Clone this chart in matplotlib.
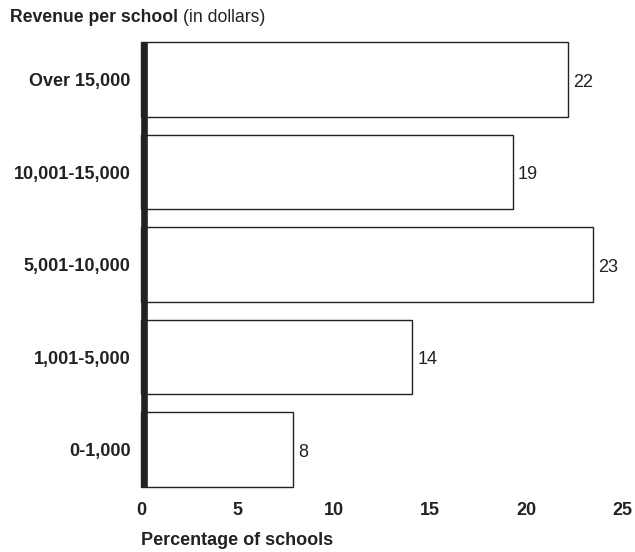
import numpy as np
import matplotlib.pyplot as plt

plt.rcParams['font.family'] = ['Liberation Sans', 'DejaVu Sans']

categories = ['0-1,000', '1,001-5,000', '5,001-10,000', '10,001-15,000', 'Over 15,000']
values = [7.9, 14.1, 23.5, 19.3, 22.2]
value_labels = ['8', '14', '23', '19', '22']
xticks = [0, 5, 10, 15, 20, 25]

ink = '#222222'

fig = plt.figure(figsize=(6.35, 5.52), dpi=100)
ax = fig.add_axes([0.222, 0.1178, 0.758, 0.806])

for s in ['top', 'right', 'bottom', 'left']:
    ax.spines[s].set_visible(False)

y = np.arange(len(categories))
ax.barh(y, values, height=0.81, color='white', edgecolor=ink, linewidth=1.0,
        clip_on=False, zorder=1)

# thick black rule along the left edge
ax.axvline(0.18, color=ink, lw=4.8, solid_capstyle='butt', zorder=5, clip_on=False)

for yi, v, lab in zip(y, values, value_labels):
    ax.text(v + 0.25, yi - 0.03, lab, va='center', ha='left', fontsize=13, color=ink)

ax.set_xlim(0, 25)
ax.set_ylim(-0.405, 4.405)
ax.set_yticks(y)
ax.set_yticklabels(categories)
ax.set_xticks(xticks)
ax.set_xticklabels([str(t) for t in xticks])
ax.tick_params(length=0, labelsize=13, labelcolor=ink)
ax.tick_params(axis='y', pad=7.5)
ax.tick_params(axis='x', pad=11)
for lab in ax.get_xticklabels() + ax.get_yticklabels():
    lab.set_fontweight('bold')

fig.text(0.222, 0.0217, 'Percentage of schools', fontsize=13, fontweight='bold',
         color=ink, ha='left', va='center')
t1 = fig.text(0.016, 0.969, 'Revenue per school', fontsize=12.7, fontweight='bold',
              color=ink, ha='left', va='center')
fig.canvas.draw()
bb = t1.get_window_extent()
x1 = fig.transFigure.inverted().transform((bb.x1, bb.y0))[0]
fig.text(x1 + 0.008, 0.969, '(in dollars)', fontsize=12.7, color=ink, ha='left', va='center')

fig.savefig('out.png', dpi=100)
